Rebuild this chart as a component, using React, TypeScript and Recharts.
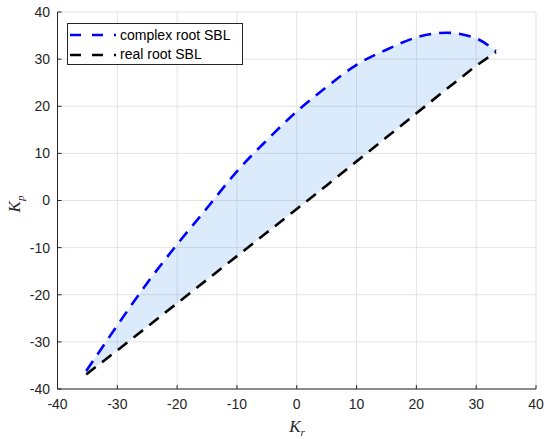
import React from "react";
import {Area, CartesianGrid, ComposedChart, Line, XAxis, YAxis} from "recharts";

// K_r sample points (shared by both boundaries)
const kr = [-35.2, -30, -25, -20, -15, -10, -5, 0, 5, 10, 15, 20, 25, 30, 33.3];
// complex root stability boundary (K_p)
const complexKp = [-36.2, -26.5, -17.5, -9.3, -1.6, 6.2, 12.8, 18.9, 24.1, 28.8, 32.0, 34.6, 35.6, 34.4, 31.7];
// real root stability boundary (K_p)
const realKp = [-36.9, -31.8, -26.8, -21.8, -16.8, -11.8, -6.8, -1.8, 3.2, 8.3, 13.4, 18.5, 23.6, 28.6, 31.5];

const ticks = [-40, -30, -20, -10, 0, 10, 20, 30, 40];

const data = kr.map((x, i) => ({kr: x, complex: complexKp[i], real: realKp[i]}));

const FONT = '"Liberation Sans", Arial, Helvetica, sans-serif';
const SERIF = '"Liberation Serif", "DejaVu Serif", serif';
const AXIS = "#262626";

const legendItems = [
    {name: "complex root SBL", color: "#0000ff"},
    {name: "real root SBL", color: "#000000"},
];

const LegendBox = () => (
    <div style={{
        position: "absolute", left: 67, top: 23, width: 174, height: 40,
        border: "1px solid #262626", background: "#fff",
        fontFamily: FONT, fontSize: 14, color: "#000",
    }}>
        {legendItems.map((it, i) => (
            <div key={it.name} style={{display: "flex", alignItems: "center", height: 19.5, marginTop: i === 0 ? 1.5 : 0}}>
                <svg width={52} height={10} style={{display: "block"}}>
                    <line x1={2} y1={5} x2={48} y2={5} stroke={it.color} strokeWidth={2.5} strokeDasharray="11 11"/>
                </svg>
                <span style={{lineHeight: "19px"}}>{it.name}</span>
            </div>
        ))}
    </div>
);

const App: React.FC = () => {
    return (
        <div style={{position: "absolute", left: 0, top: 0, width: 550, height: 439, background: "#fff"}}>
            <ComposedChart width={550} height={439} data={data}
                           margin={{top: 12, right: 14, bottom: 0, left: 0}}>
                <CartesianGrid stroke="#e3e3e3" strokeWidth={1}/>
                <XAxis dataKey="kr" type="number" domain={[-40, 40]} ticks={ticks} allowDataOverflow
                       height={50} tickSize={-4} tickMargin={14} stroke={AXIS}
                       tick={{fill: AXIS, fontSize: 14, fontFamily: FONT}}/>
                <XAxis xAxisId="top" orientation="top" type="number" domain={[-40, 40]} ticks={ticks}
                       allowDataOverflow height={0} tickSize={-4} tick={false} stroke={AXIS}/>
                <YAxis type="number" domain={[-40, 40]} ticks={ticks} allowDataOverflow
                       width={57.5} tickSize={-4} tickMargin={11.5} stroke={AXIS}
                       tick={{fill: AXIS, fontSize: 14, fontFamily: FONT}}/>
                <YAxis yAxisId="right" orientation="right" type="number" domain={[-40, 40]} ticks={ticks}
                       allowDataOverflow width={0} tickSize={-4} tick={false} stroke={AXIS}/>
                <Area dataKey={(d: any) => [d.real, d.complex]} type="monotone" stroke="none"
                      fill="#3d8fe8" fillOpacity={0.18} isAnimationActive={false}/>
                <Line dataKey="complex" type="monotone" stroke="#0000ff" strokeWidth={2.6}
                      strokeDasharray="12 8" dot={false} isAnimationActive={false}/>
                <Line dataKey="real" type="linear" stroke="#000000" strokeWidth={2.6}
                      strokeDasharray="12 8" dot={false} isAnimationActive={false}/>
                <text x={297} y={432} textAnchor="middle" fontFamily={SERIF}
                      fontStyle="italic" fontSize={17} fill={AXIS}>
                    K<tspan fontSize={11} dy={4}>r</tspan>
                </text>
                <text x={0} y={0} transform="translate(20,204) rotate(-90)" textAnchor="middle"
                      fontFamily={SERIF} fontStyle="italic" fontSize={17} fill={AXIS}>
                    K<tspan fontSize={11} dy={4}>p</tspan>
                </text>
            </ComposedChart>
            <LegendBox/>
        </div>
    );
};

export default App;
